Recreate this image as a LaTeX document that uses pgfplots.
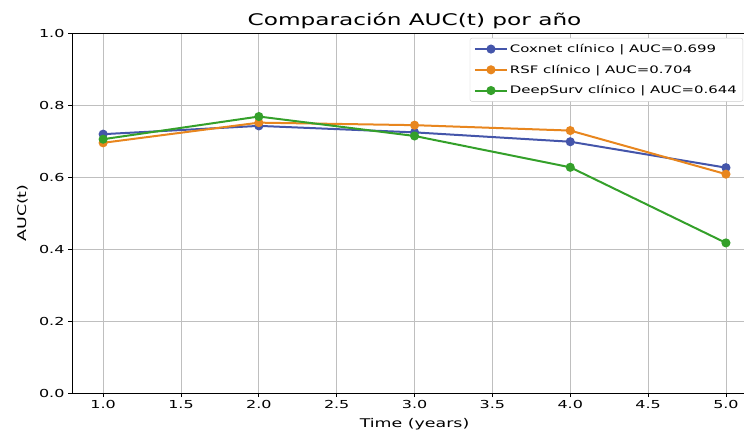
\documentclass[border=0pt]{standalone}
\usepackage{fontspec}
\setmainfont{DejaVu Sans}[FakeStretch=1.45]
\usepackage{pgfplots}
\pgfplotsset{compat=1.18}
\definecolor{cblue}{RGB}{68,85,170}
\definecolor{corange}{RGB}{232,134,30}
\definecolor{cgreen}{RGB}{52,160,42}
\begin{document}
\begin{tikzpicture}
\begin{axis}[
  scale only axis,
  width=685pt, height=360pt,
  xmin=0.8, xmax=5.2, ymin=0, ymax=1.0,
  xtick={1,1.5,2,2.5,3,3.5,4,4.5,5},
  ytick={0,0.2,0.4,0.6,0.8,1.0},
  /pgf/number format/assume math mode=true,
  /pgf/number format/.cd, fixed, fixed zerofill, precision=1, /pgfplots/.cd,
  tick label style={font=\fontsize{11}{13}\selectfont},
  tick align=outside, xtick pos=bottom, ytick pos=left,
  major tick length=4pt,
  tick style={black, line width=0.8pt},
  grid=major,
  grid style={gray!50, line width=0.8pt},
  axis line style={black, line width=0.8pt},
  xlabel={Time (years)}, ylabel={AUC(t)},
  label style={font=\fontsize{12}{14}\selectfont},
  xlabel style={yshift=-3pt},
  ylabel style={yshift=4pt},
  title={Comparación AUC(t) por año},
  title style={font=\fontsize{16}{18}\selectfont, yshift=-5pt},
  legend style={at={(rel axis cs:1,1)}, anchor=north east, xshift=-14pt, yshift=-5pt,
    font=\fontsize{10.3}{12}\selectfont, draw=gray!40, rounded corners=2pt,
    row sep=7pt, inner sep=4pt},
  legend cell align=left,
  legend image code/.code={\draw[mark repeat=2,mark phase=2] plot coordinates {(0pt,0pt) (16pt,0pt) (32pt,0pt)};},
  every axis plot/.append style={line width=2pt, mark=*, mark size=3.5pt},
]
\addplot[color=cblue, mark options={fill=cblue}] coordinates {(1,0.719) (2,0.742) (3,0.724) (4,0.698) (5,0.626)};
\addlegendentry{Coxnet clínico | AUC=0.699}
\addplot[color=corange, mark options={fill=corange}] coordinates {(1,0.695) (2,0.751) (3,0.744) (4,0.729) (5,0.608)};
\addlegendentry{RSF clínico | AUC=0.704}
\addplot[color=cgreen, mark options={fill=cgreen}] coordinates {(1,0.705) (2,0.768) (3,0.714) (4,0.627) (5,0.417)};
\addlegendentry{DeepSurv clínico | AUC=0.644}
\coordinate (SW) at (rel axis cs:0,0);
\coordinate (NE) at (axis cs:5.116,1.0);
\end{axis}
\pgfresetboundingbox
\path[use as bounding box] ([xshift=-72pt,yshift=-42pt]SW) rectangle ([yshift=33pt]NE);
\end{tikzpicture}
\end{document}
